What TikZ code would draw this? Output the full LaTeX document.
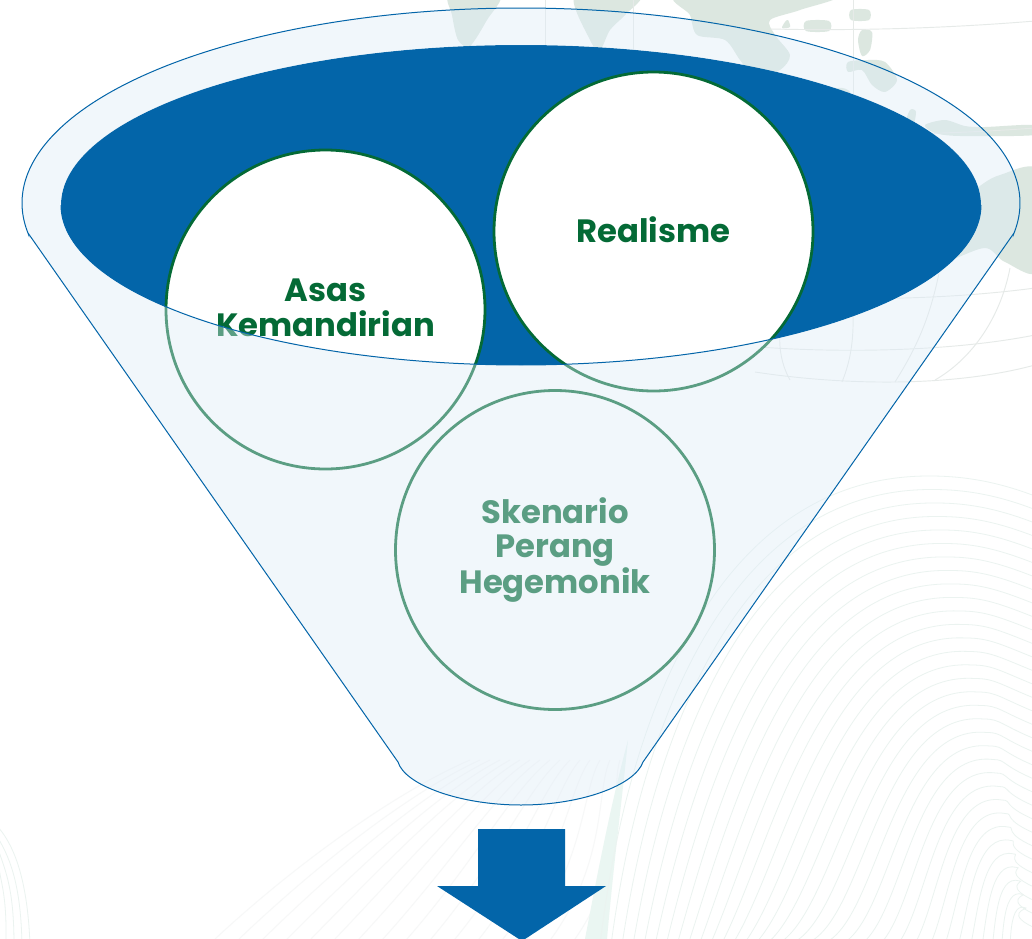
\documentclass[tikz,border=0pt]{standalone}
\usepackage{fontspec}
\setmainfont{Poppins}[BoldFont={* Bold}]
\definecolor{funnelblue}{HTML}{0365A9}
\definecolor{deepgreen}{HTML}{046A36}
\definecolor{veilblue}{RGB}{222,236,247}
\definecolor{landgreen}{HTML}{DCE7E0}
\definecolor{gridgrey}{HTML}{E6EAE8}
\definecolor{swirl}{HTML}{EBF3F0}
\definecolor{hatchgrey}{HTML}{F7F8F8}
\definecolor{tealband}{HTML}{EAF6F2}
\tikzset{
  land/.style={fill=landgreen,draw=none},
  gridline/.style={draw=gridgrey,line width=0.7pt},
  swirlline/.style={draw=swirl,line width=0.6pt},
  bubble/.style={circle,draw=deepgreen,fill=white,line width=2.1pt,minimum size=239.25pt,inner sep=0pt,
    text=deepgreen,font=\fontsize{24.2pt}{26pt}\selectfont\bfseries,align=center},
  veil/.style={fill=veilblue,fill opacity=0.4,even odd rule},
  rim/.style={draw=funnelblue,line width=0.75pt}
}
\begin{document}
\begin{tikzpicture}[x=0.75pt,y=-0.75pt]
\useasboundingbox (0,0) rectangle (1032,939);
\clip (0,0) rectangle (1032,939);
\fill[white] (0,0) rectangle (1032,939);
% map
\fill[land] plot[smooth cycle] coordinates {(450,-5) (500,-5) (487,20) (470,46) (458,40) (452,15)};
\fill[land] plot[smooth cycle] coordinates {(575,-5) (640,-5) (625,15) (610,30) (600,50) (590,40)};
\fill[land] plot[smooth cycle] coordinates {(680,-5) (835,-5) (800,10) (770,20) (775,35) (790,55) (780,70) (755,77) (740,60) (725,40) (697,35) (690,15)};
\fill[land] plot[smooth cycle] coordinates {(788,20) (790,27) (782,28) (785,22)};
\fill[land] plot[smooth cycle] coordinates {(806,21) (829,21) (829,31) (806,31)};
\fill[land] plot[smooth cycle] coordinates {(851,10) (869,10) (869,20) (851,20)};
\fill[land] plot[smooth cycle] coordinates {(862,30) (872,32) (870,50) (862,56) (858,40)};
\fill[land] plot[smooth cycle] coordinates {(848,62) (868,60) (885,62) (897,80) (885,92) (872,85) (862,70) (848,72)};
\fill[land] plot[smooth cycle] coordinates {(820,100) (838,88) (850,92) (845,106) (826,112)};
\fill[land] plot[smooth cycle] coordinates {(905,125) (910,110) (916,112) (912,130)};
\fill[land] plot[smooth cycle] coordinates {(925,125) (945,120) (965,126) (985,127) (1035,125) (1035,135) (960,136) (935,133)};
\fill[land] plot[smooth cycle] coordinates {(950,218) (975,190) (1000,175) (1040,172) (1040,270) (1005,262) (985,248) (945,262) (905,268) (925,245)};
% grid
\draw[gridline] (770,29) .. controls (860,31) and (950,28) .. (1035,21);
\draw[gridline] (853,-5) -- (853,120);
\draw[gridline] (633,-5) -- (633,50);
\draw[gridline] (545,-5) -- (545,50);
\draw[gridline] (880,134) .. controls (930,134) and (980,132) .. (1035,128);
\draw[gridline] (800,298) .. controls (880,300) and (960,298) .. (1035,288);
\draw[gridline] (735,345) .. controls (830,354) and (950,352) .. (1035,335);
\draw[gridline] (755,372) .. controls (840,385) and (950,388) .. (1035,365);
\draw[gridline] (843,270) .. controls (775,280) and (770,345) .. (790,380);
\draw[gridline] (850,275) .. controls (855,320) and (855,350) .. (842,382);
\draw[gridline] (940,268) .. controls (930,320) and (915,350) .. (895,382);
\draw[gridline] (1010,268) .. controls (1000,320) and (970,360) .. (935,380);
% hatch bottom
\foreach \i in {0,...,15}
  \draw[draw=hatchgrey,line width=0.8pt] (215+24*\i,939) .. controls (300+22*\i,860) and (400+14*\i,790) .. (470+10*\i,760);
% teal band
\fill[tealband] (585,939) .. controls (600,860) and (612,800) .. (628,740) .. controls (622,800) and (614,860) .. (607,939) -- cycle;
% swirl
\foreach \i in {0,...,32}
  \draw[swirlline] (600+11*\i,945) .. controls (630+13*\i,690+14*\i) and (730+8*\i,475+13*\i) .. (930+3*\i,476+13.5*\i) .. controls (965+2*\i,476+13.5*\i) and (1000,482+13.5*\i) .. (1040,498+13.5*\i);
\foreach \i in {0,...,3}
  \draw[swirlline] (-2,827+11*\i) .. controls (18-6*\i,850+11*\i) and (28-7*\i,890) .. (30-8*\i,945);
% dark mouth
\fill[funnelblue] (521,205) ellipse [x radius=345pt,y radius=120pt];
% circles
\node[bubble,text depth=3pt] (realisme) at (653.5,231.5) {Realisme};
\node[bubble,text depth=3pt] (asas) at (325.5,309.5) {Asas\\Kemandirian};
\node[bubble] (skenario) at (555,550) {Skenario\\Perang\\Hegemonik};
% funnel veil, over the circles
\fill[veil]
  (1014,233) -- plot[domain=-8.9:188.9,samples=240] ({521+499*cos(\x)},{203-195*sin(\x)})
  -- (28,233) -- (398,762) .. controls (405,785) and (460,805) .. (521,805)
  .. controls (582,805) and (635,785) .. (643,762) -- cycle
  (521,205) ellipse [x radius=345pt,y radius=120pt];
\draw[rim]
  (1014,233) -- plot[domain=-8.9:188.9,samples=240] ({521+499*cos(\x)},{203-195*sin(\x)})
  -- (28,233) -- (398,762) .. controls (405,785) and (460,805) .. (521,805)
  .. controls (582,805) and (635,785) .. (643,762) -- cycle;
\draw[rim] plot[domain=180:360,samples=120] ({521+460*cos(\x)},{205-160*sin(\x)});
% arrow
\fill[funnelblue] (478,829) -- (565,829) -- (565,886) -- (606,886) -- (522,941) -- (437,886) -- (478,886) -- cycle;
\end{tikzpicture}
\end{document}
